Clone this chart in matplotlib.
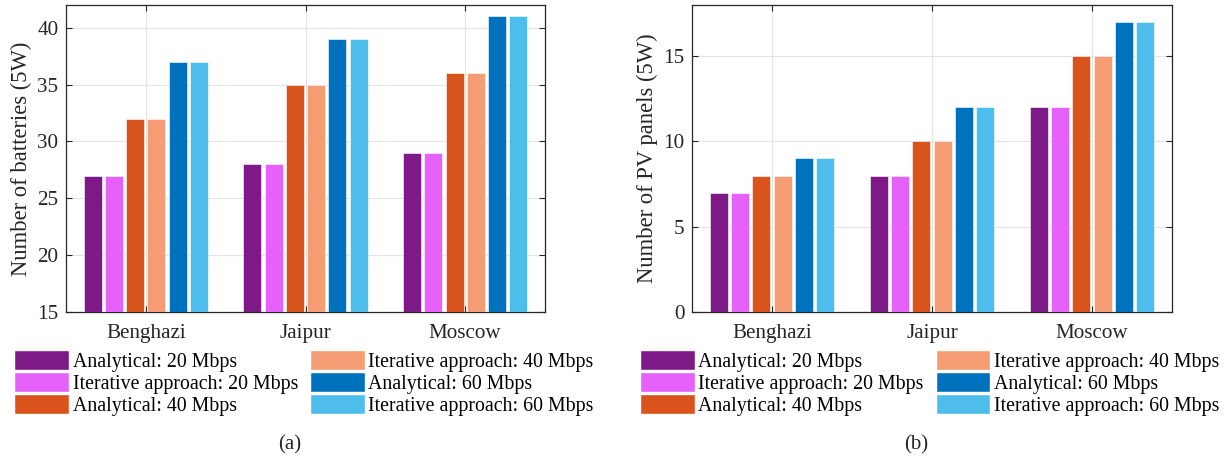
import matplotlib.pyplot as plt
from matplotlib.patches import Patch

'''
Number of batteries and PV panels per city, analytical vs iterative approach
'''

cities = ['Benghazi', 'Jaipur', 'Moscow']
labels = ['Analytical: 20 Mbps', 'Iterative approach: 20 Mbps',
          'Analytical: 40 Mbps', 'Iterative approach: 40 Mbps',
          'Analytical: 60 Mbps', 'Iterative approach: 60 Mbps']
colors = ['#7E1A87', '#E661FA', '#D9541C', '#F49C74', '#0072BD', '#4DBEEB']

# one list per series, values per city
batteries = [[27, 28, 29], [27, 28, 29], [32, 35, 36],
             [32, 35, 36], [37, 39, 41], [37, 39, 41]]
panels = [[7, 8, 12], [7, 8, 12], [8, 10, 15],
          [8, 10, 15], [9, 12, 17], [9, 12, 17]]

plt.rcParams['font.family'] = ['Liberation Serif', 'DejaVu Serif']

fig = plt.figure(figsize=(12.29, 4.61), dpi=100)
axa = fig.add_axes([66/1229, 1-312/461, 479/1229, 307/461])
axb = fig.add_axes([692/1229, 1-312/461, 480/1229, 307/461])

def bars(ax, data, ylim, yticks, ylabel):
	x = [1, 2, 3]
	pitch = 0.133
	for i in range(len(data)):
		off = (i - 2.5) * pitch
		ax.bar([v + off for v in x], data[i], width=0.113,
			color=colors[i], edgecolor='white', linewidth=0.4, zorder=3)
	ax.set_xlim(0.5, 3.5)
	ax.set_ylim(ylim)
	ax.set_yticks(yticks)
	ax.set_xticks(x)
	ax.set_xticklabels(cities)
	ax.set_ylabel(ylabel, fontsize=16.3, color='#262626')
	ax.yaxis.set_label_coords(-34/479, 0.5)
	ax.grid(True, color='#e3e3e3', linewidth=0.8, zorder=0)
	ax.tick_params(direction='in', top=True, right=True, length=4, width=0.8,
		labelsize=15.2, colors='#262626')
	ax.tick_params(axis='y', pad=5.5)
	ax.tick_params(axis='x', pad=8.5)
	for s in ax.spines.values():
		s.set_color('#262626')
		s.set_linewidth(0.9)
	handles = [Patch(facecolor=colors[i], edgecolor='white', label=labels[i]) for i in range(6)]
	ax.legend(handles=handles, ncol=2, loc='upper left', bbox_to_anchor=(-52/479, -38/307),
		frameon=False, fontsize=14.3, handlelength=2.75, handleheight=1.2,
		handletextpad=0.2, labelspacing=0.0, columnspacing=0.6, borderpad=0,
		borderaxespad=0)

bars(axa, batteries, (15, 42), [15, 20, 25, 30, 35, 40], 'Number of batteries (5W)')
bars(axb, panels, (0, 18), [0, 5, 10, 15], 'Number of PV panels (5W)')

fig.text(290/1229, 1-445/461, '(a)', ha='center', va='center', fontsize=15, color='#262626')
fig.text(916/1229, 1-445/461, '(b)', ha='center', va='center', fontsize=15, color='#262626')

fig.savefig('out.png', dpi=100)
